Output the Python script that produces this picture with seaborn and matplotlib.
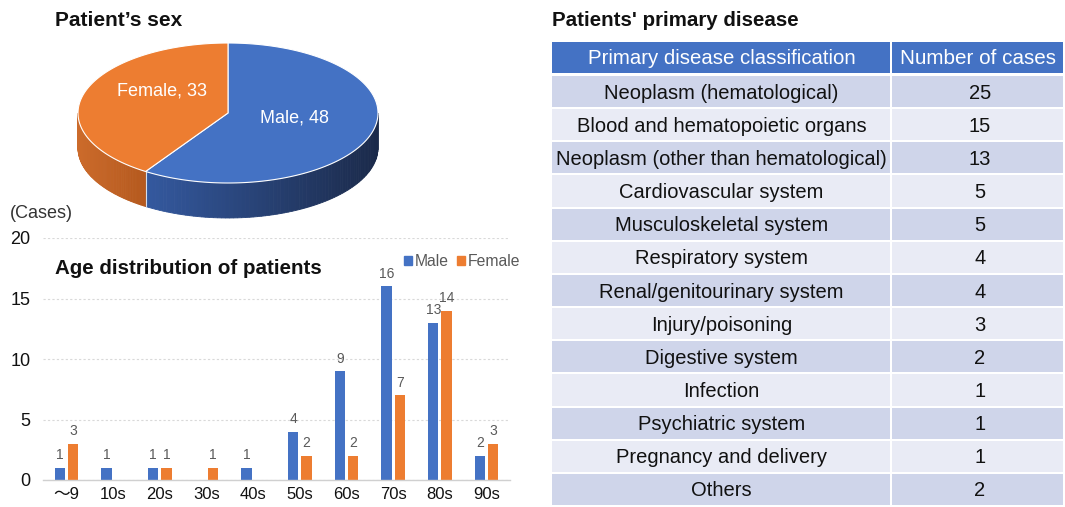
import numpy as np
import pandas as pd
import matplotlib
matplotlib.use("Agg")
import matplotlib.pyplot as plt
from matplotlib.patches import Polygon, Rectangle
import matplotlib.colors as mcolors
import seaborn as sns

# ---------------- data ----------------
sex_labels = ["Male", "Female"]
sex_counts = [48, 33]

age_groups = ["～9", "10s", "20s", "30s", "40s", "50s", "60s", "70s", "80s", "90s"]
male_counts = [1, 1, 1, 0, 1, 4, 9, 16, 13, 2]
female_counts = [3, 0, 1, 1, 0, 2, 2, 7, 14, 3]

disease_names = [
    "Neoplasm (hematological)",
    "Blood and hematopoietic organs",
    "Neoplasm (other than hematological)",
    "Cardiovascular system",
    "Musculoskeletal system",
    "Respiratory system",
    "Renal/genitourinary system",
    "Injury/poisoning",
    "Digestive system",
    "Infection",
    "Psychiatric system",
    "Pregnancy and delivery",
    "Others",
]
disease_counts = [25, 15, 13, 5, 5, 4, 4, 3, 2, 1, 1, 1, 2]
table_header = ["Primary disease classification", "Number of cases"]

BLUE = "#4472C4"
ORANGE = "#ED7D31"

sns.set_theme(style="white")
plt.rcParams["font.family"] = ["Liberation Sans", "Noto Sans CJK JP", "DejaVu Sans"]

W, H = 1065, 507
fig = plt.figure(figsize=(W / 100, H / 100), dpi=100)

# ---------------- 3D pie (pixel-coordinate overlay axes) ----------------
axp = fig.add_axes([0, 0, 1, 1])
axp.set_xlim(0, W)
axp.set_ylim(H, 0)
axp.axis("off")
axp.set_zorder(0)

cx, cy, rx, ry, depth = 228, 113, 150, 70, 35
total = sum(sex_counts)
# slices go clockwise from 12 o'clock (math angles, degrees)
start = 90.0
wedges = []
for lab, v in zip(sex_labels, sex_counts):
    sweep = 360.0 * v / total
    wedges.append((lab, start - sweep, start))  # math angle range [a0, a1]
    start -= sweep

def ell(theta_deg, dy=0):
    t = np.radians(theta_deg)
    return cx + rx * np.cos(t), cy - ry * np.sin(t) + dy

side_cols = {
    "Male": ("#34599F", "#1B2A4A"),
    "Female": ("#CC6B2B", "#B5591E"),
}
top_cols = {"Male": BLUE, "Female": ORANGE}

# sides (visible front half: math angles 180..360)
for lab, a0, a1 in wedges:
    while a1 <= 0:
        a0 += 360
        a1 += 360
    segs = [(a0 + 360, 360), (0, a1)] if a0 < 0 else [(a0, a1)]
    rng = []
    for s0, s1 in segs:
        v0, v1 = max(s0, 180), min(s1, 360)
        if v1 > v0:
            rng.append((v0, v1))
    c0 = np.array(mcolors.to_rgb(side_cols[lab][0]))
    c1 = np.array(mcolors.to_rgb(side_cols[lab][1]))
    for v0, v1 in rng:
        n = 80
        ts = np.linspace(v0, v1, n + 1)
        xa0, _ = ell(v0)
        xa1, _ = ell(v1)
        for i in range(n):
            xa, ya = ell(ts[i])
            xb, yb = ell(ts[i + 1])
            xmid = (xa + xb) / 2
            f = np.clip((xmid - xa0) / max(xa1 - xa0, 1), 0, 1)
            col = c0 * (1 - f) + c1 * f
            axp.add_patch(Polygon([(xa, ya), (xb, yb), (xb, yb + depth), (xa, ya + depth)],
                                  closed=True, facecolor=col, edgecolor=col, lw=0.6))

for lab, a0, a1 in wedges:
    a = a0 % 360
    if 180 < a < 360:
        x, y = ell(a)
        axp.plot([x, x], [y, y + depth], color="white", lw=0.8, alpha=0.8)

# top faces
for lab, a0, a1 in wedges:
    ts = np.linspace(a0, a1, 200)
    pts = [(cx, cy)] + [ell(t) for t in ts]
    axp.add_patch(Polygon(pts, closed=True, facecolor=top_cols[lab],
                          edgecolor="white", lw=0.8))

# pie labels
label_pos = {"Male": (295, 118), "Female": (162, 91)}
for lab, v in zip(sex_labels, sex_counts):
    x, y = label_pos[lab]
    axp.text(x, y, f"{lab}, {v}", color="white", fontsize=13, ha="center", va="center")

axp.text(55, 21, "Patient’s sex", fontsize=15, fontweight="bold", ha="left",
         va="center", color="#111111")
axp.text(552, 21, "Patients' primary disease", fontsize=14.8, fontweight="bold",
         ha="left", va="center", color="#111111")

# ---------------- bar chart ----------------
x0, x1 = 43, 510
y0, y1 = 238, 480
axb = fig.add_axes([x0 / W, 1 - y1 / H, (x1 - x0) / W, (y1 - y0) / H])
axb.set_zorder(2)
axb.patch.set_alpha(0)
df = pd.DataFrame({
    "age": age_groups * 2,
    "count": male_counts + female_counts,
    "sex": ["Male"] * len(age_groups) + ["Female"] * len(age_groups),
})
sns.barplot(data=df, x="age", y="count", hue="sex", order=age_groups,
            hue_order=["Male", "Female"], palette=[BLUE, ORANGE],
            width=0.57, gap=0.22, saturation=1, linewidth=0, ax=axb, legend=False)
axb.set_xlim(-0.5, 9.5)
axb.set_ylim(0, 20)
axb.set_yticks([0, 5, 10, 15, 20])
axb.yaxis.grid(True, linestyle=(0, (2, 2)), color="#D9D9D9", lw=0.8)
axb.set_axisbelow(True)
for s in ["left", "right", "top"]:
    axb.spines[s].set_visible(False)
axb.spines["bottom"].set_color("#D0D0D0")
axb.spines["bottom"].set_linewidth(1.0)
axb.tick_params(axis="both", length=0, colors="#111111")
axb.tick_params(axis="x", labelsize=12, pad=5)
axb.tick_params(axis="y", labelsize=13, pad=9)
axb.set_xlabel("")
axb.set_ylabel("")
for cont in axb.containers:
    labels = [f"{int(b.get_height())}" if b.get_height() > 0 else "" for b in cont]
    axb.bar_label(cont, labels=labels, padding=4, fontsize=10, color="#595959")

axp.text(10, 214, "(Cases)", fontsize=13, color="#333333", ha="left", va="center")
axp.text(55, 269, "Age distribution of patients", fontsize=14.8, fontweight="bold",
         ha="left", va="center", color="#111111")
# legend
axb.legend(handles=[Rectangle((0, 0), 1, 1, color=BLUE), Rectangle((0, 0), 1, 1, color=ORANGE)],
           labels=["Male", "Female"], loc="upper right", bbox_to_anchor=(1.035, 0.96),
           ncol=2, frameon=False, fontsize=11.3, labelcolor="#595959",
           handlelength=0.55, handleheight=0.55, handletextpad=0.15, columnspacing=0.5,
           borderaxespad=0)

# ---------------- table ----------------
tx0, tx1, ty0 = 552, 1063, 42
axt = fig.add_axes([tx0 / W, 0, (tx1 - tx0) / W, (H - ty0) / H])
axt.set_xlim(0, tx1 - tx0)
axt.set_ylim(H - ty0, 0)
axt.axis("off")
colsplit = 339
hdr_h = 31
row0 = 34
pitch = (H - ty0 - row0) / len(disease_names)
gap = 2
axt.add_patch(Rectangle((0, 0), colsplit - 1, hdr_h, facecolor=BLUE, edgecolor="none"))
axt.add_patch(Rectangle((colsplit + 1, 0), tx1 - tx0 - colsplit - 1, hdr_h,
                        facecolor=BLUE, edgecolor="none"))
axt.text(colsplit / 2, hdr_h / 2 + 1, table_header[0], color="white", fontsize=14.7,
         ha="center", va="center")
axt.text((colsplit + tx1 - tx0) / 2 + 1, hdr_h / 2 + 1, table_header[1], color="white",
         fontsize=14.9, ha="center", va="center")
for i, (name, cnt) in enumerate(zip(disease_names, disease_counts)):
    top = row0 + i * pitch
    col = "#CFD5EA" if i % 2 == 0 else "#E9EBF5"
    axt.add_patch(Rectangle((0, top), colsplit - 1, pitch - gap, facecolor=col, edgecolor="none"))
    axt.add_patch(Rectangle((colsplit + 1, top), tx1 - tx0 - colsplit - 1, pitch - gap,
                            facecolor=col, edgecolor="none"))
    yc = top + (pitch - gap) / 2 + 1.5
    axt.text(colsplit / 2, yc, name, fontsize=14.5, ha="center", va="center", color="#111111")
    axt.text((colsplit + tx1 - tx0) / 2 + 3, yc, str(cnt), fontsize=14.5, ha="center",
             va="center", color="#111111")

fig.savefig("out.png", dpi=100)
